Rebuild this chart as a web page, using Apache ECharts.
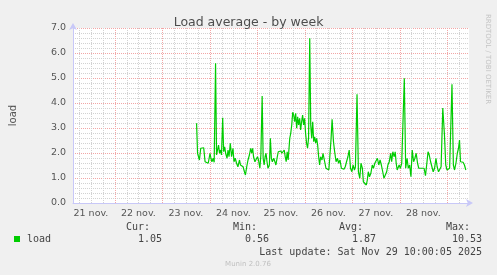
<!DOCTYPE html>
<html>
<head>
<meta charset="utf-8">
<script src="https://cdn.jsdelivr.net/npm/echarts@6/dist/echarts.min.js"></script>
<style>html,body{margin:0;padding:0;background:#f0f0f0}#c{width:497px;height:275px}</style>
</head>
<body>
<div id="c"></div>
<script>
// Time in hours since 21 nov 00:00
const hoursA = [65.4,65.9,66.35,66.85,67.5,68.2,69.0,69.7,70.5,71.3,72.2,72.65,73.15,73.8,74.3,75.0,75.5,76.0,76.5,77.0,77.5,78.0,78.6,79.1,79.6,80.1,80.8,81.3,81.8,82.45,83.1,83.8,84.3,84.95,85.6,86.3,87.1,87.6,88.3,88.9,89.6,90.1,90.75,91.4,92.1,92.75,93.25,93.75,94.2,94.9,95.55,96.2,96.7,97.4];
const loadA  = [3.19,1.99,1.92,1.72,2.19,2.23,2.21,1.65,1.72,1.59,1.99,1.79,1.65,1.79,1.63,5.59,1.92,1.85,2.32,1.99,2.12,1.92,3.41,2.05,2.25,1.99,1.79,2.12,1.85,2.39,1.85,2.19,1.65,1.79,1.59,1.45,1.72,1.52,1.59,1.45,1.25,1.12,1.45,1.72,1.92,2.19,1.99,2.19,1.85,1.65,1.59,1.85,1.72,1.39];
const hoursB = [97.9,98.55,99.05,99.55,100.05,100.5,101.0,101.5,102.2,102.7,103.2,103.7,104.4,105.0,105.5,106.2,106.7,107.35,108.0,108.5,109.0,109.7,110.2,110.7,111.2,111.7,112.2,112.5,113.0,113.5,114.0,114.5,115.0,115.5,116.0,116.5,117.0,117.5,118.0,118.5,119.0,119.5,120.0,120.5,121.0,121.5,122.0,122.6,123.1,123.6,124.1,124.6,125.1,125.6,126.1,126.6,127.1,127.6,128.1,128.8,129.3,129.8,130.3,130.8,131.4];
const loadB  = [1.92,4.28,1.79,1.52,1.85,1.99,1.65,1.39,1.52,2.59,1.79,1.65,1.79,1.65,1.52,1.85,2.05,1.99,2.08,1.99,2.05,2.12,1.85,1.65,2.05,1.72,1.65,2.59,2.79,3.12,3.63,3.52,3.25,3.59,2.99,3.45,3.12,3.39,2.92,3.25,3.52,3.12,3.39,2.79,2.39,2.19,2.59,6.59,3.12,2.59,3.25,2.45,2.65,2.39,2.59,2.32,1.85,1.52,1.85,1.72,1.99,1.79,1.85,1.39,1.45];
const hoursC = [132.25,132.75,133.4,133.9,134.6,135.2,135.9,136.6,137.2,137.9,138.6,139.2,139.9,140.55,141.2,141.9,142.55,143.2,143.9,144.5,145.2,145.7,146.5,147.2,147.9,148.5,149.2,149.7,150.2,150.7,151.2,151.7,152.2,152.8,153.5,154.2,154.8,155.5,156.2,156.8,157.5,158.15,158.8,159.5,160.1,160.8,161.5,162.1,162.8,163.5,164.0,164.6];
const loadC  = [1.32,1.85,2.59,3.35,2.45,2.05,1.65,1.79,1.59,1.72,1.39,1.39,1.35,1.45,1.65,1.85,2.12,1.39,1.25,1.52,1.32,1.45,4.35,1.25,0.99,1.59,1.39,0.85,0.79,0.92,0.72,0.92,1.25,1.05,1.19,1.52,1.39,1.59,1.52,1.79,1.52,1.72,1.52,1.25,0.99,0.99,1.25,1.52,1.65,1.99,1.65,2.05];
const hoursD = [165.3,165.8,166.3,166.8,167.3,167.8,168.4,169.1,169.8,170.4,171.1,171.8,172.4,173.1,173.75,174.4,175.1,175.75,176.4,177.1,177.7,178.4,179.1,179.7,180.4,181.1,181.7,182.4,183.0,183.7,184.4,185.0,185.7,186.4,187.0,187.7,188.4,189.0,189.85,190.7,191.35,192.0,192.7,193.3,194.5,195.2,195.8,196.5,197.2,197.8,198.3,198.8,199.5,200.1,200.8,201.5];
const loadD  = [1.85,2.05,1.59,1.32,1.25,1.52,1.39,1.59,1.52,4.99,1.39,1.79,1.39,1.52,1.05,2.12,1.65,1.79,1.99,1.59,1.39,1.32,1.39,1.32,1.39,1.09,1.52,2.05,1.92,1.65,1.59,1.25,1.39,1.79,1.45,1.25,1.32,1.45,3.8,2.72,1.52,1.32,1.25,1.39,4.75,1.52,1.32,1.59,1.99,2.19,2.52,1.65,1.65,1.63,1.52,1.32];

const dayLabels = ['21 nov.','22 nov.','23 nov.','24 nov.','25 nov.','26 nov.','27 nov.','28 nov.'];
const statLabels = ['Cur:','Min:','Avg:','Max:'];
const statValues = ['1.05','0.56','1.87','10.53'];
const seriesName = 'load';
const lastUpdate = 'Last update: Sat Nov 29 10:00:05 2025';
const version = 'Munin 2.0.76';
const titleText = 'Load average - by week';
const xMin = 2.94, xMax = 203.1;

const hours = hoursA.concat(hoursB, hoursC, hoursD);
const load = loadA.concat(loadB, loadC, loadD);
const data = hours.map((h, i) => [h, load[i]]);

const labelHours = dayLabels.map((_, i) => i * 24 + 12);
// vertical grid: every 6 h, major at midnight
const gridHours = [];
for (let h = 6; h < xMax; h += 6) gridHours.push([h, h % 24 === 0 ? 1 : 0]);

const minorColor = '#d2d2d2';
const majorColor = '#f2a6a6';
const minorStyle = {color: minorColor, type: [1, 1], width: 1};
const majorStyle = {color: majorColor, type: [1, 1], width: 1};

const mono = '"DejaVu Sans Mono", monospace';
const sans = '"DejaVu Sans", sans-serif';

const chart = echarts.init(document.getElementById('c'), null, {renderer: 'canvas'});
const statX = [150, 257, 363, 470];
const valX = [162, 269, 376, 482];
const graphics = [];
statLabels.forEach((s, i) => {
  graphics.push({type: 'text', x: statX[i], y: 227, style: {text: s, font: '10px ' + mono, fill: '#444', textAlign: 'right', textVerticalAlign: 'middle'}});
  graphics.push({type: 'text', x: valX[i], y: 239, style: {text: statValues[i], font: '10px ' + mono, fill: '#444', textAlign: 'right', textVerticalAlign: 'middle'}});
});
graphics.push({type: 'text', x: 482, y: 252, style: {text: lastUpdate, font: '10px ' + mono, fill: '#444', textAlign: 'right', textVerticalAlign: 'middle'}});
graphics.push({type: 'text', x: 248, y: 264, style: {text: version, font: '7px ' + sans, fill: '#c0c0c0', textAlign: 'center', textVerticalAlign: 'middle'}});
graphics.push({type: 'text', x: 488, y: 59, rotation: -Math.PI / 2, style: {text: 'RRDTOOL / TOBI OETIKER', font: '7px ' + sans, fill: '#c4c4c4', textAlign: 'center', textVerticalAlign: 'middle'}});

chart.setOption({
  backgroundColor: '#f0f0f0',
  animation: false,
  title: {text: titleText, left: 'center', top: 11, textStyle: {fontFamily: sans, fontSize: 12.5, fontWeight: 'normal', color: '#4d4d4d'}},
  grid: {left: 67, top: 28, width: 402, height: 175, show: true, backgroundColor: '#ffffff', borderWidth: 0},
  legend: {data: [seriesName], left: 14, top: 234, padding: 0, icon: 'rect', itemWidth: 6, itemHeight: 6,
    textStyle: {fontFamily: mono, fontSize: 10, color: '#444', padding: [0, 0, 0, 2]}},
  xAxis: {
    type: 'value', min: xMin, max: xMax,
    axisLine: {show: true, onZero: false, lineStyle: {color: '#c8c8f8', width: 1}, symbol: ['none', 'arrow'], symbolSize: [6, 7], symbolOffset: [0, 4]},
    axisTick: {show: false},
    splitLine: {show: false},
    axisLabel: {customValues: labelHours, formatter: v => dayLabels[labelHours.indexOf(v)] || '', fontFamily: sans, fontSize: 9.5, color: '#555', margin: 6}
  },
  yAxis: {
    type: 'value', min: 0, max: 7, interval: 1,
    name: seriesName, nameLocation: 'middle', nameRotate: 90, nameGap: 55,
    nameTextStyle: {fontFamily: sans, fontSize: 10, color: '#555'},
    axisLine: {show: true, lineStyle: {color: '#c8c8f8', width: 1}, symbol: ['none', 'arrow'], symbolSize: [6, 7], symbolOffset: [0, 5]},
    axisTick: {show: false},
    axisLabel: {formatter: v => v.toFixed(1), fontFamily: sans, fontSize: 9.5, color: '#555', margin: 7},
    splitLine: {show: true, lineStyle: majorStyle},
    minorTick: {show: false, splitNumber: 5},
    minorSplitLine: {show: true, lineStyle: minorStyle}
  },
  graphic: graphics,
  series: [
    {
      type: 'custom', name: '_vgrid', silent: true, z: 1,
      data: gridHours,
      renderItem: function (params, api) {
        const h = api.value(0), major = api.value(1);
        const p0 = api.coord([h, 0]);
        const p1 = api.coord([h, 7]);
        const x = Math.round(p0[0]) + 0.5;
        return {
          type: 'line', silent: true,
          shape: {x1: x, y1: p0[1], x2: x, y2: p1[1]},
          style: {stroke: major ? majorColor : minorColor, lineWidth: 1, lineDash: [1, 1]}
        };
      }
    },
    {
      type: 'line', name: seriesName, data: data, showSymbol: false, z: 5,
      lineStyle: {color: '#00cc00', width: 1.2}, itemStyle: {color: '#00cc00'}
    }
  ]
});
</script>
</body>
</html>
